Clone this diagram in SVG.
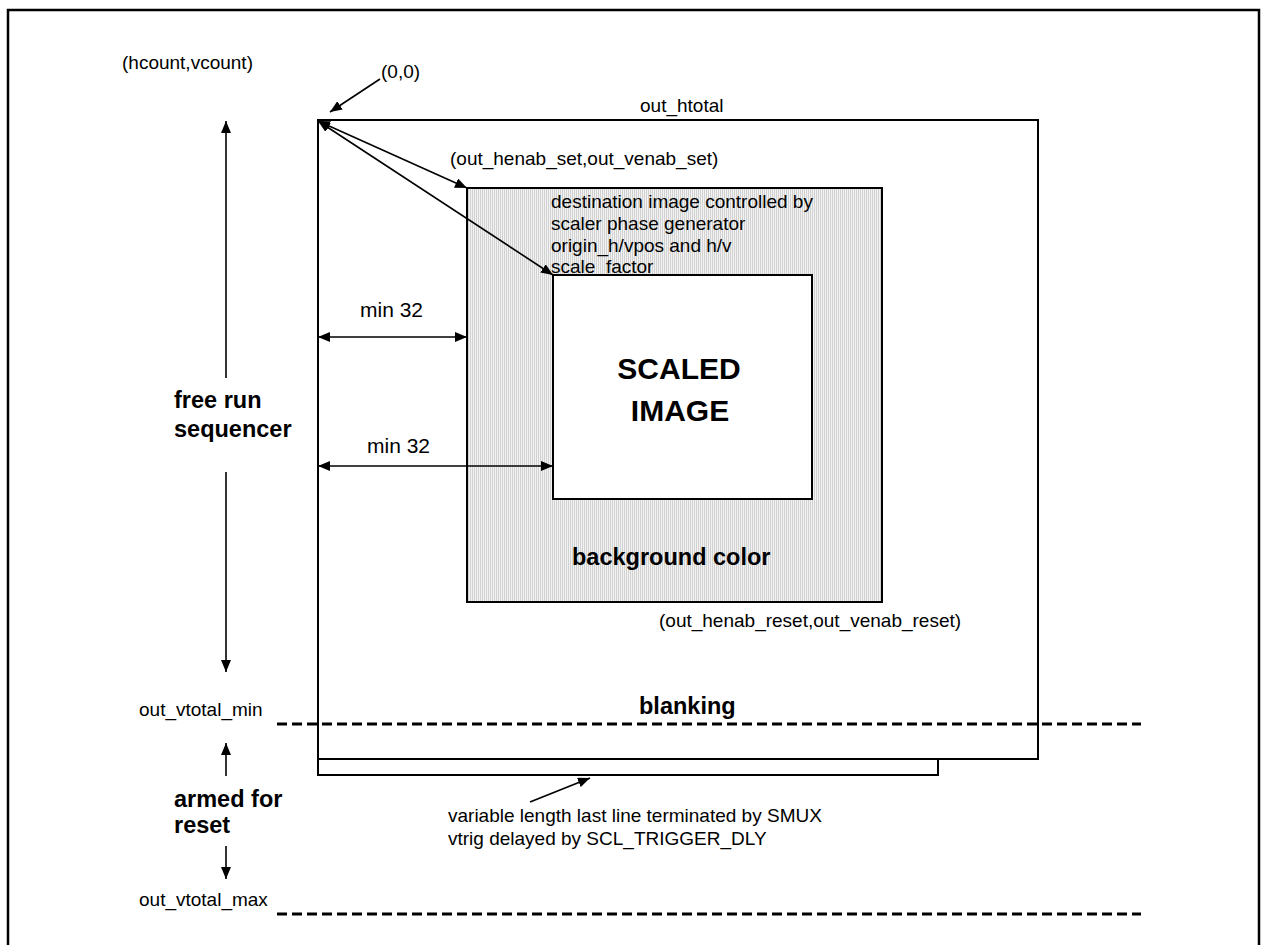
<svg xmlns="http://www.w3.org/2000/svg" width="1262" height="945" viewBox="0 0 1262 945">
<style>
.t{font-family:"Liberation Sans",Arial,sans-serif;font-size:19px;fill:#000}
.b{font-family:"Liberation Sans",Arial,sans-serif;font-weight:bold;font-size:23.5px;fill:#000}
.big{font-size:30px}
.m{font-size:21px}
.box{fill:none;stroke:#000;stroke-width:2}
.c{stroke:#000;stroke-width:1.6;fill:none}
.dash{stroke:#000;stroke-width:3;stroke-dasharray:10 5;fill:none}
</style>
<defs>
<pattern id="hatch" width="2" height="4" patternUnits="userSpaceOnUse">
<rect width="2" height="4" fill="#f2f2f2"/>
<rect width="1" height="4" fill="#d2d2d2"/>
</pattern>
<marker id="ah" viewBox="0 0 12 10" refX="12" refY="5" markerWidth="12" markerHeight="10" markerUnits="userSpaceOnUse" orient="auto-start-reverse">
<path d="M0,0 L12,5 L0,10 z" fill="#000"/>
</marker>
</defs>
<rect x="0" y="0" width="1262" height="945" fill="#fff"/>
<rect id="frame" x="8" y="10" width="1251" height="960" fill="none" stroke="#000" stroke-width="2.5"/>

<g id="output-frame">
<rect x="318" y="120" width="720" height="639" fill="#fff" stroke="#000" stroke-width="2"/>
<text class="t" x="640" y="112">out_htotal</text>
<text class="b" x="639" y="714">blanking</text>
</g>
<g id="last-line">
<rect x="318" y="759" width="620" height="16" class="box"/>
</g>
<g id="destination">
<rect x="467" y="188" width="415" height="414" fill="url(#hatch)" stroke="#000" stroke-width="2"/>
<text class="t" x="551" y="208">destination image controlled by</text>
<text class="t" x="551" y="230">scaler phase generator</text>
<text class="t" x="551" y="252">origin_h/vpos and h/v</text>
<text class="t" x="551" y="273">scale_factor</text>
<text class="b" x="572" y="565">background color</text>
</g>
<g id="scaled-image">
<rect x="553" y="275" width="259" height="224" fill="#fff" stroke="#000" stroke-width="2"/>
<text class="b big" x="679" y="379" text-anchor="middle">SCALED</text>
<text class="b big" x="680" y="421" text-anchor="middle">IMAGE</text>
</g>

<g id="labels">
<text class="t" x="122" y="69">(hcount,vcount)</text>
<text class="t" x="381" y="78">(0,0)</text>
<text class="t" x="450" y="165">(out_henab_set,out_venab_set)</text>
<text class="t" x="659" y="627">(out_henab_reset,out_venab_reset)</text>
<text class="t m" x="360" y="317">min 32</text>
<text class="t m" x="367" y="453">min 32</text>
<text class="b" x="174" y="408">free run</text>
<text class="b" x="174" y="437">sequencer</text>
<text class="t" x="139" y="716">out_vtotal_min</text>
<text class="t" x="139" y="906">out_vtotal_max</text>
<text class="b" x="174" y="807">armed for</text>
<text class="b" x="174" y="833">reset</text>
<text class="t" x="448" y="822">variable length last line terminated by SMUX</text>
<text class="t" x="448" y="845">vtrig delayed by SCL_TRIGGER_DLY</text>
</g>

<g id="connectors">
<line class="c" x1="380" y1="79" x2="330" y2="112" marker-end="url(#ah)"/>
<line class="c" x1="318" y1="121" x2="467" y2="188" marker-start="url(#ah)" marker-end="url(#ah)"/>
<line class="c" x1="318" y1="121" x2="553" y2="275" marker-start="url(#ah)" marker-end="url(#ah)"/>
<line class="c" x1="318" y1="337" x2="467" y2="337" marker-start="url(#ah)" marker-end="url(#ah)"/>
<line class="c" x1="318" y1="466" x2="553" y2="466" marker-start="url(#ah)" marker-end="url(#ah)"/>
<line class="c" x1="226" y1="378" x2="226" y2="121" marker-end="url(#ah)"/>
<line class="c" x1="226" y1="472" x2="226" y2="672" marker-end="url(#ah)"/>
<line class="c" x1="226" y1="776" x2="226" y2="743" marker-end="url(#ah)"/>
<line class="c" x1="226" y1="846" x2="226" y2="879" marker-end="url(#ah)"/>
<line class="c" x1="530" y1="802" x2="590" y2="778" marker-end="url(#ah)"/>
<line class="dash" x1="277" y1="724" x2="1141" y2="724"/>
<line class="dash" x1="277" y1="914" x2="1141" y2="914"/>
</g>
</svg>
